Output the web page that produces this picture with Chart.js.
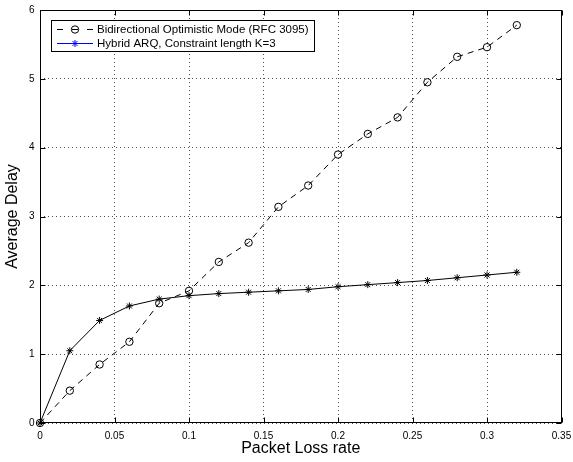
<!DOCTYPE html>
<html><head><meta charset="utf-8">
<script src="https://cdn.jsdelivr.net/npm/chart.js@4"></script>
<style>html,body{margin:0;padding:0;background:#fff;}canvas{display:block;}</style>
</head><body>
<canvas id="c" width="573" height="462"></canvas>
<script>
// ---- data ----
const packetLossRate = [0, 0.02, 0.04, 0.06, 0.08, 0.10, 0.12, 0.14, 0.16, 0.18, 0.20, 0.22, 0.24, 0.26, 0.28, 0.30, 0.32];
const rfc3095Delay   = [0, 0.47, 0.85, 1.18, 1.74, 1.92, 2.34, 2.62, 3.14, 3.45, 3.90, 4.20, 4.44, 4.95, 5.32, 5.46, 5.78];
const hybridArqDelay = [0, 1.05, 1.49, 1.70, 1.80, 1.85, 1.88, 1.90, 1.92, 1.94, 1.98, 2.01, 2.04, 2.07, 2.11, 2.15, 2.19];
const xTickValues = [0, 0.05, 0.1, 0.15, 0.2, 0.25, 0.3, 0.35];
const xTickLabels = ['0', '0.05', '0.1', '0.15', '0.2', '0.25', '0.3', '0.35'];
const yTickValues = [0, 1, 2, 3, 4, 5, 6];
const yTickLabels = ['0', '1', '2', '3', '4', '5', '6'];
const seriesNames = ['Bidirectional Optimistic Mode (RFC 3095)', 'Hybrid ARQ, Constraint length K=3'];
const axisTitles = ['Packet Loss rate', 'Average Delay'];

const FONT = "'Liberation Sans', Arial, Helvetica, sans-serif";
Chart.defaults.font.family = FONT;
Chart.defaults.color = '#000';

const framePlugin = {
  id: 'frame',
  afterDatasetsDraw(chart) {
    const {ctx, chartArea: a, scales: {x, y}} = chart;
    ctx.save();
    ctx.setLineDash([]);
    ctx.strokeStyle = '#000';
    ctx.lineWidth = 1;
    const L = Math.round(a.left) + 0.5, R = Math.round(a.right) - 0.5;
    const T = Math.round(a.top) + 0.5, B = Math.round(a.bottom) - 0.5;
    ctx.strokeRect(L, T, R - L, B - T);
    const tl = 5;
    ctx.beginPath();
    xTickValues.forEach(v => {
      const px = Math.round(x.getPixelForValue(v)) + 0.5;
      ctx.moveTo(px, B); ctx.lineTo(px, B - tl);
      ctx.moveTo(px, T); ctx.lineTo(px, T + tl);
    });
    yTickValues.forEach(v => {
      const py = Math.round(y.getPixelForValue(v)) + 0.5;
      ctx.moveTo(L, py); ctx.lineTo(L + tl, py);
      ctx.moveTo(R, py); ctx.lineTo(R - tl, py);
    });
    ctx.stroke();

    // legend box (MATLAB style, inside the axes)
    const bx = 51.5, by = 20.5, bw = 263, bh = 31;
    ctx.fillStyle = '#fff';
    ctx.fillRect(bx, by, bw, bh);
    ctx.strokeRect(bx, by, bw, bh);
    const r1 = 29.5, r2 = 43.5;
    // row 1: dashed black with circle
    ctx.beginPath();
    ctx.moveTo(57, r1); ctx.lineTo(63, r1);
    ctx.moveTo(72, r1); ctx.lineTo(78, r1);
    ctx.moveTo(87, r1); ctx.lineTo(93, r1);
    ctx.stroke();
    ctx.fillStyle = 'rgba(0,0,0,0)';
    Chart.helpers.drawPoint(ctx, {pointStyle: 'circle', radius: 3.7, borderWidth: 1, rotation: 0}, 75, r1);
    // row 2: blue solid with star
    ctx.strokeStyle = '#0000ff';
    ctx.beginPath();
    ctx.moveTo(57, r2); ctx.lineTo(93, r2);
    ctx.stroke();
    Chart.helpers.drawPoint(ctx, {pointStyle: 'star', radius: 3.5, borderWidth: 1, rotation: 0}, 75, r2);
    ctx.fillStyle = '#000';
    ctx.font = '11.5px ' + FONT;
    ctx.textBaseline = 'middle';
    ctx.textAlign = 'left';
    ctx.fillText(seriesNames[0], 97, r1);
    ctx.fillText(seriesNames[1], 97, r2);
    ctx.restore();
  }
};

new Chart(document.getElementById('c'), {
  type: 'line',
  data: {
    datasets: [
      {
        label: seriesNames[0],
        data: packetLossRate.map((x, i) => ({x, y: rfc3095Delay[i]})),
        borderColor: '#000', borderWidth: 1, borderDash: [6, 5],
        pointStyle: 'circle', pointRadius: 3.7, pointBorderWidth: 1,
        pointBorderColor: '#000', pointBackgroundColor: 'rgba(0,0,0,0)',
        tension: 0, fill: false, clip: false
      },
      {
        label: seriesNames[1],
        data: packetLossRate.map((x, i) => ({x, y: hybridArqDelay[i]})),
        borderColor: '#000', borderWidth: 1,
        pointStyle: 'star', pointRadius: 3.5, pointBorderWidth: 1,
        pointBorderColor: '#000', pointBackgroundColor: '#000',
        tension: 0, fill: false, clip: false
      }
    ]
  },
  options: {
    responsive: false,
    animation: false,
    devicePixelRatio: 1,
    layout: {padding: {top: 10, right: 11.5, left: 0, bottom: 0}},
    plugins: {legend: {display: false}, tooltip: {enabled: false}},
    scales: {
      x: {
        type: 'linear', min: 0, max: 0.35,
        afterBuildTicks(s) { s.ticks = xTickValues.map(v => ({value: v})); },
        afterFit(s) { s.height = 39; s.paddingLeft = 0; s.paddingRight = 0; },
        ticks: {
          autoSkip: false, maxRotation: 0, padding: 7,
          font: {size: 10},
          callback: (v) => xTickLabels[xTickValues.indexOf(v)]
        },
        grid: {color: 'rgba(0,0,0,0.7)', lineWidth: 1, drawTicks: false},
        border: {display: false, dash: [1, 3]},
        title: {display: true, text: axisTitles[0], font: {size: 16}, padding: {top: 0, bottom: 3.4}}
      },
      y: {
        type: 'linear', min: 0, max: 6,
        afterBuildTicks(s) { s.ticks = yTickValues.map(v => ({value: v})); },
        afterFit(s) { s.width = 40; s.paddingTop = 0; s.paddingBottom = 0; },
        ticks: {
          autoSkip: false, padding: 5.5,
          font: {size: 10},
          callback: (v) => yTickLabels[yTickValues.indexOf(v)]
        },
        grid: {color: 'rgba(0,0,0,0.7)', lineWidth: 1, drawTicks: false},
        border: {display: false, dash: [1, 3]},
        title: {display: true, text: axisTitles[1], font: {size: 16}, padding: {top: 3, bottom: 0}}
      }
    }
  },
  plugins: [framePlugin]
});
</script>
</body></html>
